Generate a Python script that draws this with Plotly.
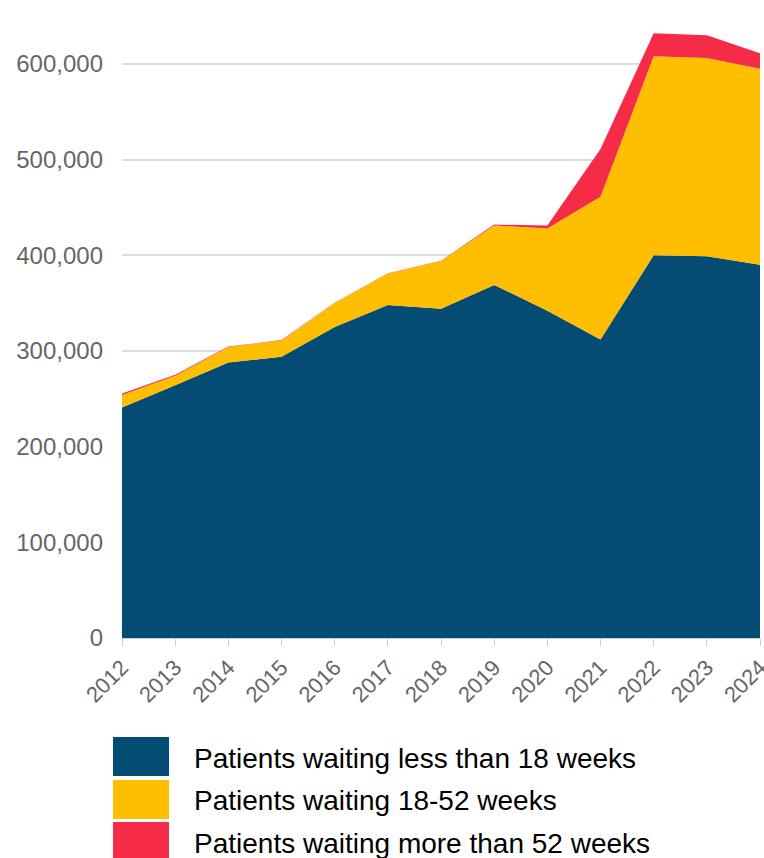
import plotly.graph_objects as go

years = [2012, 2013, 2014, 2015, 2016, 2017, 2018, 2019, 2020, 2021, 2022, 2023, 2024]
under_18 = [241000, 264000, 288000, 294000, 325000, 348000, 344000, 369000, 342000, 312000, 400000, 399000, 390000]
weeks_18_52 = [13000, 10000, 16000, 17000, 25000, 33000, 50000, 62000, 86000, 149000, 208000, 207000, 205000]
over_52 = [1500, 1000, 500, 300, 300, 300, 300, 1000, 3000, 50000, 24000, 24000, 16000]

series_names = ["Patients waiting less than 18 weeks",
                "Patients waiting 18-52 weeks",
                "Patients waiting more than 52 weeks"]
colors = ["#054C74", "#FFBF00", "#F62B48"]
y_ticks = [0, 100000, 200000, 300000, 400000, 500000, 600000]
y_tick_text = ["0", "100,000", "200,000", "300,000", "400,000", "500,000", "600,000"]

W, H = 764, 858
plot_top, plot_bottom, plot_left, plot_right = 16, 638, 122, 760

fig = go.Figure()
for name, vals, col in zip(series_names, [under_18, weeks_18_52, over_52], colors):
    fig.add_trace(go.Scatter(
        x=years, y=vals, name=name, mode="lines", stackgroup="one",
        line=dict(width=0, color=col), fillcolor=col, showlegend=False,
        hoverinfo="x+y+name"))

# custom legend (large squares), page pixel rows
legend_rows = [(737, 776, 758), (780, 819, 800), (822, 866, 843)]
ph = plot_bottom - plot_top
pw = plot_right - plot_left
for (ya, yb, yc), name, col in zip(legend_rows, series_names, colors):
    fig.add_shape(type="rect", xref="paper", yref="paper",
                  x0=(113 - plot_left) / pw, x1=(169 - plot_left) / pw,
                  y0=(plot_bottom - yb) / ph, y1=(plot_bottom - ya) / ph,
                  fillcolor=col, line=dict(width=0), layer="above")
    fig.add_annotation(xref="paper", yref="paper",
                       x=(192 - plot_left) / pw, y=(plot_bottom - yc) / ph,
                       xanchor="left", yanchor="middle", showarrow=False,
                       text=name, font=dict(size=28, color="#000000",
                                            family="Liberation Sans, Arial, sans-serif"))

fig.update_layout(
    width=W, height=H,
    margin=dict(l=plot_left, r=W - plot_right, t=plot_top, b=H - plot_bottom),
    paper_bgcolor="white", plot_bgcolor="white",
    font=dict(family="Liberation Sans, Arial, sans-serif", color="#666666"),
    xaxis=dict(range=[2012, 2024], tickmode="array", tickvals=years,
               ticktext=[str(y) for y in years], tickangle=-45,
               tickfont=dict(size=22, color="#666666"), ticklabeloverflow="allow",
               automargin=False,
               showgrid=False, zeroline=False, showline=True, linecolor="#cccccc",
               linewidth=1, ticks="outside", ticklen=7, tickcolor="#cccccc"),
    yaxis=dict(range=[0, 650000], tickmode="array", tickvals=y_ticks,
               ticktext=y_tick_text, tickfont=dict(size=24, color="#666666"),
               automargin=False,
               showgrid=True, gridcolor="#dddddd", gridwidth=2, zeroline=False,
               showline=False, ticks="", ticklabelstandoff=18),
)

fig.write_html("out.html", config={"displayModeBar": False},
               post_script="document.body.style.margin='0';document.body.style.overflow='hidden';")
